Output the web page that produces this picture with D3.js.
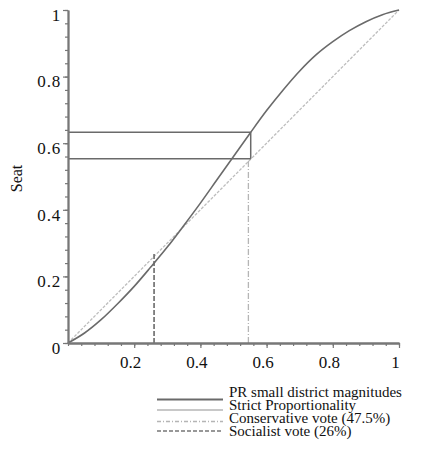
<!DOCTYPE html>
<html><head><meta charset="utf-8">
<script src="https://cdn.jsdelivr.net/npm/d3@7"></script>
<style>
html,body{margin:0;padding:0;background:#fff;}
svg text{font-family:"Liberation Serif","DejaVu Serif",serif;fill:#111;}
</style></head>
<body><svg id="c" width="422" height="452"></svg>
<script>
// Data
const voteShares = [0, 0.05, 0.1, 0.15, 0.2, 0.25, 0.3, 0.35, 0.4, 0.45, 0.5, 0.55, 0.6, 0.65, 0.7, 0.75, 0.8, 0.85, 0.9, 0.95, 1];
const seatShares = [0, 0.03, 0.07, 0.118, 0.17, 0.228, 0.288, 0.353, 0.42, 0.49, 0.56, 0.63, 0.698, 0.76, 0.817, 0.866, 0.905, 0.938, 0.965, 0.986, 1];
const proportionality = [[0, 0], [1, 1]];
const socialistVote = 0.26;
const conservativeVote = 0.545;
const boxSeats = [0.553, 0.633];   // horizontal lines of the box
const boxRight = 0.552;
const tickLabels = [0, 0.2, 0.4, 0.6, 0.8, 1];
const minorTicks = d3.range(0, 1.0001, 0.04);
const legendLabels = ["PR small district magnitudes", "Strict Proportionality", "Conservative vote (47.5%)", "Socialist vote (26%)"];

const svg = d3.select("#c");
const x = d3.scaleLinear().domain([0, 1]).range([68, 399]);
const y = d3.scaleLinear().domain([0, 1]).range([343, 10]);
const dark = "#6a6a6a";

// Reference lines
const line = d3.line().x(d => x(d[0])).y(d => y(d[1]));
svg.append("path").attr("d", line(proportionality))
  .attr("stroke", "#bdbdbd").attr("stroke-width", 1.3).attr("stroke-dasharray", "3,1.5").attr("fill", "none");

svg.append("path").attr("d", line([[conservativeVote, 0], [conservativeVote, boxSeats[0]]]))
  .attr("stroke", "#b5b5b5").attr("stroke-width", 1.3).attr("stroke-dasharray", "6,2,1,2").attr("fill", "none");

svg.append("path").attr("d", line([[socialistVote, 0], [socialistVote, socialistVote + 0.01]]))
  .attr("stroke", dark).attr("stroke-width", 1.6).attr("stroke-dasharray", "5,2").attr("fill", "none");

// Box
boxSeats.forEach(s => {
  svg.append("path").attr("d", line([[0, s], [boxRight, s]]))
    .attr("stroke", dark).attr("stroke-width", 1.5).attr("fill", "none");
});
svg.append("path").attr("d", line([[boxRight, boxSeats[0]], [boxRight, boxSeats[1]]]))
  .attr("stroke", dark).attr("stroke-width", 1.5).attr("fill", "none");

// Curve
const curve = d3.line().x((d, i) => x(voteShares[i])).y(d => y(d)).curve(d3.curveMonotoneX);
svg.append("path").attr("d", curve(seatShares))
  .attr("stroke", dark).attr("stroke-width", 1.6).attr("fill", "none");

// Axes
const axisColor = "#777";
const gy = svg.append("g").attr("transform", `translate(${x(0)},0)`)
  .call(d3.axisLeft(y).tickValues(minorTicks).tickSize(3).tickFormat("").tickSizeOuter(0));
const gy2 = svg.append("g").attr("transform", `translate(${x(0)},0)`)
  .call(d3.axisLeft(y).tickValues(tickLabels).tickSize(5).tickSizeOuter(0).tickFormat(d3.format("~g")));
const gx = svg.append("g").attr("transform", `translate(0,${y(0)})`)
  .call(d3.axisBottom(x).tickValues(minorTicks).tickSize(3).tickFormat("").tickSizeOuter(0));
const gx2 = svg.append("g").attr("transform", `translate(0,${y(0)})`)
  .call(d3.axisBottom(x).tickValues(tickLabels.slice(1)).tickSize(5).tickSizeOuter(0).tickFormat(d3.format("~g")));
[gy, gy2, gx, gx2].forEach(g => {
  g.selectAll("path.domain").attr("stroke", axisColor).attr("stroke-width", 1.8);
  g.selectAll("line").attr("stroke", axisColor).attr("stroke-width", 1.2);
});
gy2.selectAll("text").attr("font-size", 17).attr("font-family", "Liberation Serif").attr("fill", "#111")
  .attr("x", -7).attr("dy", "0.6em").attr("letter-spacing", "0.8px");
gx2.selectAll("text").attr("font-size", 17).attr("font-family", "Liberation Serif").attr("fill", "#111")
  .attr("y", 13).attr("dx", -4);

// Y label
svg.append("text").attr("transform", `translate(22,${(y(0) + y(1)) / 2 + 2}) rotate(-90)`)
  .attr("text-anchor", "middle").attr("font-size", 16).text("Seat");

// Legend
const legendStyles = [
  {stroke: dark, w: 2, dash: null},
  {stroke: "#c8c8c8", w: 2, dash: null},
  {stroke: "#b5b5b5", w: 1.3, dash: "4,2,1,2"},
  {stroke: "#777", w: 1.6, dash: "4,2"}
];
const lineYs = [399.5, 410, 421.5, 431];
const textYs = [397, 409.5, 423, 436];
legendLabels.forEach((lab, i) => {
  const st = legendStyles[i];
  const l = svg.append("line").attr("x1", 157).attr("x2", 223).attr("y1", lineYs[i]).attr("y2", lineYs[i])
    .attr("stroke", st.stroke).attr("stroke-width", st.w);
  if (st.dash) l.attr("stroke-dasharray", st.dash);
  svg.append("text").attr("x", 229).attr("y", textYs[i]).attr("font-size", 15).text(lab);
});
</script>
</body></html>
